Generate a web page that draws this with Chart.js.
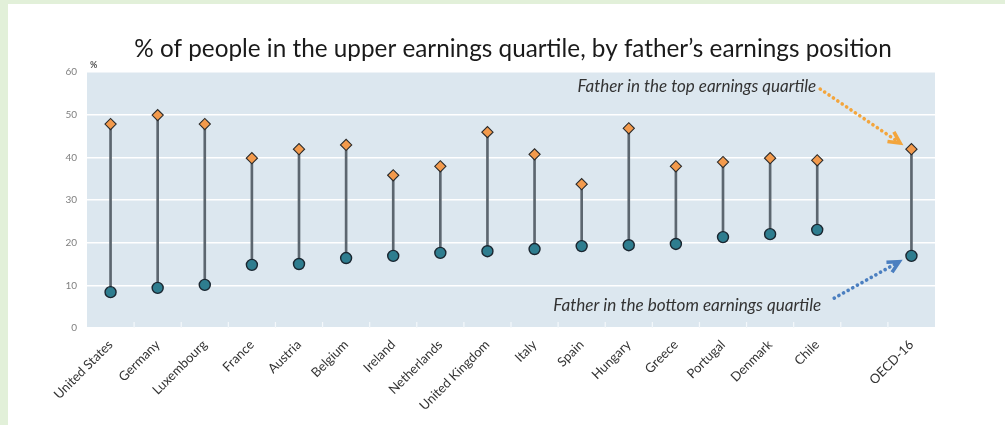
<!DOCTYPE html>
<html>
<head>
<meta charset="utf-8">
<script src="https://cdn.jsdelivr.net/npm/chart.js@4.4.1/dist/chart.umd.min.js"></script>
<style>
  html, body { margin: 0; padding: 0; background: #e2f0d9; width: 1005px; height: 425px; overflow: hidden; }
  #panel { position: absolute; left: 8px; top: 4px; width: 997px; height: 421px; background: #ffffff; }
</style>
</head>
<body>
<div id="panel"><canvas id="c"></canvas></div>
<script>
const categories = ["United States", "Germany", "Luxembourg", "France", "Austria", "Belgium", "Ireland",
  "Netherlands", "United Kingdom", "Italy", "Spain", "Hungary", "Greece", "Portugal", "Denmark", "Chile", "", "OECD-16"];
const fatherTop = [47.8, 49.9, 47.8, 39.8, 41.9, 42.9, 35.8, 37.9, 45.9, 40.7, 33.7, 46.8, 37.9, 38.9, 39.8, 39.3, null, 41.9];
const fatherBottom = [8.4, 9.4, 10.1, 14.8, 15.0, 16.4, 16.9, 17.6, 18.0, 18.5, 19.2, 19.4, 19.7, 21.3, 22.0, 23.0, null, 16.9];
const yTicks = [0, 10, 20, 30, 40, 50, 60];
const titleText = "% of people in the upper earnings quartile, by father\u2019s earnings position";
const topNote = "Father in the top earnings quartile";
const bottomNote = "Father in the bottom earnings quartile";

const FONT = "Lato, 'Open Sans', sans-serif";

function fitFont(ctx, text, style, targetW, base) {
  ctx.font = style + " " + base + "px " + FONT;
  const w = ctx.measureText(text).width;
  return base * targetW / w;
}

function arrow(ctx, x1, y1, x2, y2, color) {
  ctx.save();
  ctx.strokeStyle = color;
  ctx.lineCap = "round";
  ctx.lineWidth = 3.6;
  ctx.setLineDash([0.1, 5.2]);
  ctx.beginPath();
  ctx.moveTo(x1, y1);
  ctx.lineTo(x2, y2);
  ctx.stroke();
  ctx.setLineDash([]);
  ctx.lineCap = "butt";
  ctx.lineJoin = "miter";
  const a = Math.atan2(y2 - y1, x2 - x1);
  const L = 11;
  ctx.lineWidth = 3.6;
  ctx.beginPath();
  ctx.moveTo(x2 - L * Math.cos(a - 0.55), y2 - L * Math.sin(a - 0.55));
  ctx.lineTo(x2 + 2 * Math.cos(a), y2 + 2 * Math.sin(a));
  ctx.lineTo(x2 - L * Math.cos(a + 0.55), y2 - L * Math.sin(a + 0.55));
  ctx.stroke();
  ctx.restore();
}

const decor = {
  id: "decor",
  beforeDraw(chart) {
    const { ctx, chartArea: a } = chart;
    ctx.save();
    ctx.fillStyle = "#dce7ef";
    ctx.fillRect(a.left, a.top, a.right - a.left, a.bottom - a.top);
    ctx.restore();
  },
  afterDraw(chart) {
    const { ctx, chartArea: a } = chart;
    const xs = chart.scales.x, ys = chart.scales.y;
    ctx.save();
    // small white tick marks along the bottom edge, between categories
    ctx.strokeStyle = "#f4f8fb";
    ctx.lineWidth = 1.2;
    for (let i = 0; i <= categories.length; i++) {
      const px = (i === categories.length)
        ? a.right
        : xs.getPixelForValue(i) - (xs.getPixelForValue(1) - xs.getPixelForValue(0)) / 2;
      if (i === 0 || i === categories.length) continue;
      ctx.beginPath();
      ctx.moveTo(px, a.bottom);
      ctx.lineTo(px, a.bottom - 6);
      ctx.stroke();
    }
    // title
    const ts = fitFont(ctx, titleText, "normal", 758, 22);
    ctx.font = "normal " + ts + "px " + FONT;
    ctx.fillStyle = "#1a1a1a";
    ctx.textAlign = "center";
    ctx.textBaseline = "alphabetic";
    ctx.fillText(titleText, (a.left + a.right) / 2 + 2, 53);
    // % label
    ctx.font = "bold 9px " + FONT;
    ctx.fillStyle = "#555555";
    ctx.textAlign = "left";
    ctx.fillText("%", a.left + 3, a.top - 4);
    // notes
    const ns = fitFont(ctx, topNote, "italic", 239, 15);
    ctx.font = "italic " + ns + "px " + FONT;
    ctx.fillStyle = "#333333";
    ctx.textAlign = "right";
    ctx.fillText(topNote, xs.getPixelForValue(15) - 1, ys.getPixelForValue(55.4));
    const bs = fitFont(ctx, bottomNote, "italic", 268, 15);
    ctx.font = "italic " + bs + "px " + FONT;
    ctx.fillText(bottomNote, xs.getPixelForValue(15) + 4, ys.getPixelForValue(3.9));
    ctx.restore();
    // arrows
    arrow(ctx, xs.getPixelForValue(15) + 3, ys.getPixelForValue(56.0),
      xs.getPixelForValue(17) - 13, ys.getPixelForValue(43.6), "#f3a53c");
    arrow(ctx, xs.getPixelForValue(15) + 17, ys.getPixelForValue(7.0),
      xs.getPixelForValue(17) - 14, ys.getPixelForValue(15.3), "#4b7fc0");
  }
};

new Chart(document.getElementById("c"), {
  type: "bar",
  data: {
    labels: categories,
    datasets: [
      {
        type: "bar",
        data: fatherBottom.map((b, i) => (b === null ? null : [b, fatherTop[i]])),
        backgroundColor: "#5c666f",
        barThickness: 2,
        order: 3
      },
      {
        type: "line",
        data: fatherTop,
        showLine: false,
        pointStyle: "rectRot",
        pointRadius: 5.6,
        pointBackgroundColor: "#f39a4c",
        pointBorderColor: "#2a2a2a",
        pointBorderWidth: 1.1,
        order: 1
      },
      {
        type: "line",
        data: fatherBottom,
        showLine: false,
        pointStyle: "circle",
        pointRadius: 5.5,
        pointBackgroundColor: "#2e7d8f",
        pointBorderColor: "#1a2630",
        pointBorderWidth: 1.4,
        order: 1
      }
    ]
  },
  options: {
    responsive: true,
    maintainAspectRatio: false,
    animation: false,
    events: [],
    layout: { padding: { top: 68, right: 70, left: 0, bottom: 0 } },
    plugins: { legend: { display: false }, tooltip: { enabled: false }, title: { display: false } },
    scales: {
      x: {
        offset: true,
        grid: { display: false, drawTicks: false },
        border: { display: false },
        ticks: {
          autoSkip: false,
          maxRotation: 45,
          minRotation: 45,
          padding: 9,
          color: "#333333",
          font: { family: FONT, size: 13 }
        },
        afterFit(s) { s.height = 97; }
      },
      y: {
        min: 0,
        max: 60,
        afterBuildTicks(s) { s.ticks = yTicks.map(v => ({ value: v })); },
        grid: { color: "#ffffff", lineWidth: 1.6, drawTicks: false },
        border: { display: false },
        ticks: {
          padding: 10,
          color: "#7f7f7f",
          font: { family: FONT, size: 10 }
        },
        afterFit(s) { s.width = 79; }
      }
    }
  },
  plugins: [decor]
});
</script>
</body>
</html>
